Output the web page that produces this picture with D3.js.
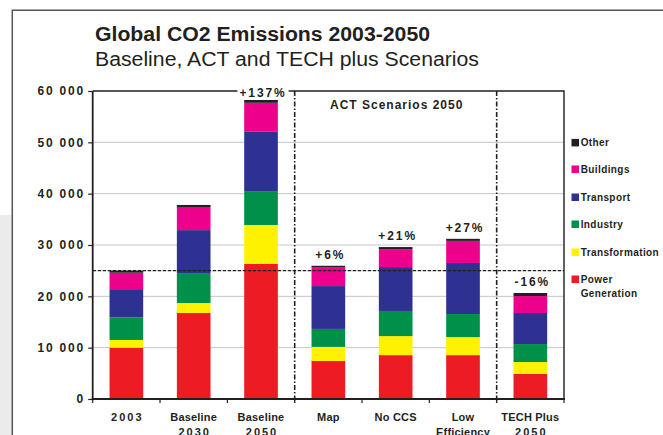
<!DOCTYPE html>
<html><head><meta charset="utf-8">
<script src="https://cdn.jsdelivr.net/npm/d3@7"></script>
<style>
html,body{margin:0;padding:0;background:#fff;}
svg{display:block;font-family:"Liberation Sans",Arial,Helvetica,sans-serif;}
</style></head>
<body>
<svg id="chart" width="663" height="435"></svg>
<script>
// ---- data ----
const categories = ["2003", "Baseline 2030", "Baseline 2050", "Map", "No CCS", "Low Efficiency", "TECH Plus 2050"];
const categoryLines = [["2003"], ["Baseline", "2030"], ["Baseline", "2050"], ["Map"], ["No CCS"], ["Low", "Efficiency"], ["TECH Plus", "2050"]];
const seriesNames = ["Power Generation", "Transformation", "Industry", "Transport", "Buildings", "Other"];
const powerGeneration = [10000, 16750, 26300, 7400, 8550, 8550, 4900];
const transformation  = [1500, 1950, 7600, 2750, 3700, 3500, 2300];
const industry        = [4400, 5700, 6600, 3500, 4900, 4500, 3500];
const transport       = [5500, 8500, 11550, 8350, 8550, 9950, 6050];
const buildings       = [3200, 4500, 5650, 3600, 3500, 4300, 3300];
const other           = [400, 400, 550, 350, 400, 400, 600];
const changeLabels    = ["", "", "+137%", "+6%", "+21%", "+27%", "-16%"];
const yTicks = [0, 10000, 20000, 30000, 40000, 50000, 60000];
const referenceLevel = 25000;
const legendOrder = ["Other", "Buildings", "Transport", "Industry", "Transformation", "Power Generation"];
const legendLines = [["Other"], ["Buildings"], ["Transport"], ["Industry"], ["Transformation"], ["Power", "Generation"]];

(function () {
// ---- build table ----
const seriesArrays = [powerGeneration, transformation, industry, transport, buildings, other];
const table = categories.map((c, i) => {
  const row = {category: c};
  seriesNames.forEach((s, j) => row[s] = seriesArrays[j][i]);
  return row;
});
const colors = d3.scaleOrdinal().domain(seriesNames)
  .range(["#ED1C24", "#FFF200", "#00904A", "#2E3192", "#EC008C", "#231F20"]);

const svg = d3.select("#chart");
const ink = "#231F20";

// outer page frame
svg.append("rect").attr("x", 0).attr("y", 215).attr("width", 11.5).attr("height", 220).attr("fill", "#ebebeb");
svg.append("path").attr("d", "M12.3,435 V10.3 H663").attr("fill", "none").attr("stroke", "#555").attr("stroke-width", 1.5);

// titles
svg.append("text").attr("x", 95).attr("y", 40.5).attr("font-size", 20).attr("font-weight", "bold").attr("fill", ink)
  .attr("textLength", 335).attr("lengthAdjust", "spacingAndGlyphs")
  .text("Global CO2 Emissions 2003-2050");
svg.append("text").attr("x", 95).attr("y", 65.5).attr("font-size", 19.5).attr("fill", ink)
  .attr("textLength", 384).attr("lengthAdjust", "spacingAndGlyphs")
  .text("Baseline, ACT and TECH plus Scenarios");

// scales
const pL = 92.7, pR = 564, pT = 91, pB = 399;
const x = d3.scaleBand().domain(categories).range([pL, pR]).paddingInner(0.5).paddingOuter(0.25);
const y = d3.scaleLinear().domain([0, 60000]).range([pB, pT]);

// gridlines
svg.append("g").selectAll("line").data(yTicks.filter(v => v > 0 && v < 60000)).join("line")
  .attr("x1", pL).attr("x2", pR).attr("y1", d => y(d)).attr("y2", d => y(d))
  .attr("stroke", "#c4c4c4").attr("stroke-width", 1);

// bars
const stacked = d3.stack().keys(seriesNames)(table);
svg.append("g").selectAll("g").data(stacked).join("g")
  .attr("fill", d => colors(d.key))
  .selectAll("rect").data(d => d).join("rect")
  .attr("x", d => x(d.data.category))
  .attr("width", x.bandwidth())
  .attr("y", d => y(d[1]))
  .attr("height", d => y(d[0]) - y(d[1]));

// reference dashed line
svg.append("line").attr("x1", pL).attr("x2", pR)
  .attr("y1", y(referenceLevel)).attr("y2", y(referenceLevel))
  .attr("stroke", ink).attr("stroke-width", 1.3).attr("stroke-dasharray", "3.5,1.5");

// plot frame top and right
svg.append("path").attr("d", `M${pL},${pT} H${pR} V${pB}`).attr("fill", "none")
  .attr("stroke", ink).attr("stroke-width", 1.4);

// scenario separators (dash-dot)
const boundaries = categories.map(c => x(c) - x.step() * x.paddingInner() / 2).concat([pR]);
[boundaries[3], boundaries[6]].forEach(bx => {
  svg.append("line").attr("x1", bx).attr("x2", bx).attr("y1", pT).attr("y2", pB + 4)
    .attr("stroke", ink).attr("stroke-width", 1.6).attr("stroke-dasharray", "5,2,1.5,2");
});

// ACT label
svg.append("text").attr("x", (boundaries[3] + boundaries[6]) / 2 + 1).attr("y", 109)
  .attr("text-anchor", "middle").attr("font-size", 12).attr("font-weight", "bold")
  .attr("letter-spacing", 1).attr("fill", ink).text("ACT Scenarios 2050");

// change labels
const totals = table.map(r => d3.sum(seriesNames, s => r[s]));
const lab = svg.append("g");
categories.forEach((c, i) => {
  if (!changeLabels[i]) return;
  const ty = Math.max(y(totals[i]) - 7, 97);
  const t = lab.append("text").attr("x", x(c) + x.bandwidth() / 2 + 2).attr("y", ty)
    .attr("text-anchor", "middle").attr("font-size", 12).attr("font-weight", "bold")
    .attr("letter-spacing", 1.9).attr("fill", ink).text(changeLabels[i]);
  if (ty < pT + 8) {
    const bb = t.node().getBBox();
    lab.insert("rect", "text").attr("x", bb.x - 2).attr("y", bb.y - 1).attr("width", bb.width + 4)
      .attr("height", bb.height).attr("fill", "#fff");
  }
});

// y axis
const fmt = d3.formatLocale({thousands: " ", grouping: [3], decimal: ".", currency: ["", ""]}).format(",");
const yAxis = svg.append("g").attr("transform", `translate(${pL},0)`)
  .call(d3.axisLeft(y).tickValues(yTicks).tickSize(4.5).tickPadding(5).tickFormat(fmt));
yAxis.select(".domain").attr("stroke", ink).attr("stroke-width", 1.8).attr("d", `M0,${pB + 1}V${pT}`);
yAxis.selectAll(".tick line").attr("stroke", ink).attr("stroke-width", 1.2);
yAxis.selectAll(".tick text").attr("font-family", "Liberation Sans, Arial, sans-serif")
  .attr("font-size", 12).attr("font-weight", "bold").attr("letter-spacing", 1.8).attr("fill", ink)
  .attr("dx", 1.8);

// x axis line + boundary ticks
svg.append("line").attr("x1", pL - 1).attr("x2", pR + 1).attr("y1", pB).attr("y2", pB)
  .attr("stroke", ink).attr("stroke-width", 2);
svg.append("g").selectAll("line").data(boundaries).join("line")
  .attr("x1", d => d).attr("x2", d => d).attr("y1", pB).attr("y2", pB + 4)
  .attr("stroke", ink).attr("stroke-width", 1.2);

// x labels
categories.forEach((c, i) => {
  const t = svg.append("text").attr("text-anchor", "middle").attr("font-size", 11).attr("font-weight", "bold").attr("fill", ink);
  categoryLines[i].forEach((ln, k) => {
    t.append("tspan").attr("x", x(c) + x.bandwidth() / 2 + (/^\d+$/.test(ln) ? 1 : 0))
      .attr("y", 420.7 + k * 15.6)
      .attr("letter-spacing", /^\d+$/.test(ln) ? 2 : 0.2).text(ln);
  });
});

// legend
const legendY = [142.7, 169.3, 197.3, 224.3, 252.3, 279.3];
legendOrder.forEach((name, i) => {
  svg.append("rect").attr("x", 571.5).attr("y", legendY[i] - 3.8).attr("width", 7.5).attr("height", 7.5)
    .attr("fill", colors(name));
  const t = svg.append("text").attr("font-size", 10).attr("font-weight", "bold").attr("fill", ink).attr("letter-spacing", 0.4);
  legendLines[i].forEach((ln, k) => {
    t.append("tspan").attr("x", 580.7).attr("y", legendY[i] + 3.6 + k * 14).text(ln);
  });
});
})();
</script>
</body></html>
